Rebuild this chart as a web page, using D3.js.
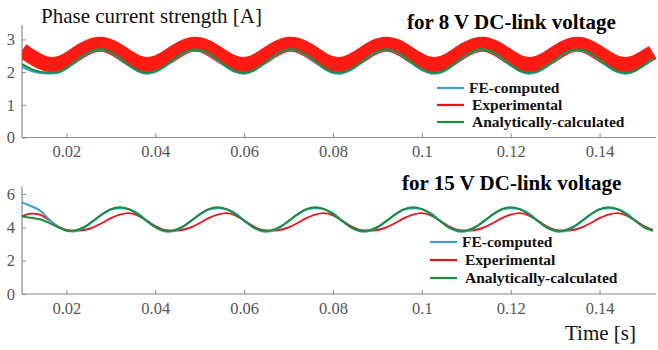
<!DOCTYPE html>
<html><head><meta charset="utf-8">
<script src="https://cdn.jsdelivr.net/npm/d3@7"></script>
<style>
html,body{margin:0;padding:0;background:#fff;}
svg{display:block;}
svg text{font-family:"Liberation Serif","DejaVu Serif",serif !important;}
</style></head>
<body>
<svg id="chart" width="658" height="350"></svg>
<script>
// ---- data ----
const time = [0.010,0.012,0.014,0.016,0.018,0.020,0.022,0.024,0.026,0.028,0.030,0.032,0.034,0.036,0.038,0.040,0.042,0.044,0.046,0.048,0.050,0.052,0.054,0.056,0.058,0.060,0.062,0.064,0.066,0.068,0.070,0.072,0.074,0.076,0.078,0.080,0.082,0.084,0.086,0.088,0.090,0.092,0.094,0.096,0.098,0.100,0.102,0.104,0.106,0.108,0.110,0.112,0.114,0.116,0.118,0.120,0.122,0.124,0.126,0.128,0.130,0.132,0.134,0.136,0.138,0.140,0.142,0.144,0.146,0.148,0.150,0.152];

const seriesNames = ["FE-computed","Experimental","Analytically-calculated"];
const xTickValues = [0.02,0.04,0.06,0.08,0.1,0.12,0.14];
const xTickLabels = ["0.02","0.04","0.06","0.08","0.1","0.12","0.14"];
const yTicksTop = [0,1,2,3];
const yTicksBottom = [0,2,4,6];

// 8 V panel
const fe8 = [2.16,2.04,1.97,1.96,1.97,2.10,2.31,2.51,2.65,2.69,2.60,2.41,2.20,2.03,1.95,2.00,2.15,2.36,2.56,2.67,2.67,2.56,2.36,2.15,2.00,1.95,2.03,2.20,2.41,2.60,2.69,2.65,2.51,2.31,2.10,1.97,1.96,2.06,2.25,2.46,2.63,2.69,2.63,2.46,2.25,2.06,1.96,1.97,2.10,2.31,2.51,2.65,2.69,2.60,2.41,2.20,2.03,1.95,2.00,2.15,2.36,2.56,2.67,2.67,2.56,2.36,2.15,2.00,1.95,2.03,2.20,2.41];
const exp8 = [2.66,2.48,2.33,2.24,2.25,2.36,2.53,2.70,2.82,2.85,2.77,2.62,2.44,2.29,2.23,2.27,2.40,2.57,2.74,2.84,2.84,2.74,2.57,2.40,2.27,2.23,2.29,2.44,2.62,2.77,2.85,2.82,2.70,2.53,2.36,2.25,2.24,2.33,2.48,2.66,2.80,2.85,2.80,2.66,2.48,2.33,2.24,2.25,2.36,2.53,2.70,2.82,2.85,2.77,2.62,2.44,2.29,2.23,2.27,2.40,2.57,2.74,2.84,2.84,2.74,2.57,2.40,2.27,2.23,2.29,2.44,2.60];
const ana8 = [2.24,2.10,2.01,1.99,2.00,2.13,2.33,2.53,2.67,2.70,2.61,2.43,2.22,2.05,1.98,2.03,2.18,2.38,2.57,2.68,2.68,2.57,2.38,2.18,2.03,1.98,2.05,2.22,2.43,2.61,2.70,2.67,2.53,2.33,2.13,2.00,1.99,2.09,2.27,2.48,2.64,2.70,2.64,2.48,2.27,2.09,1.99,2.00,2.13,2.33,2.53,2.67,2.70,2.61,2.43,2.22,2.05,1.98,2.03,2.18,2.38,2.57,2.68,2.68,2.57,2.38,2.18,2.03,1.98,2.05,2.22,2.43];

// 15 V panel
const fe15 = [5.50,5.28,5.02,4.50,4.05,3.79,3.76,3.98,4.36,4.76,5.07,
              5.15,5.10,4.85,4.42,4.00,3.77,3.76,3.98,4.36,4.76,5.07,
              5.15,5.10,4.85,4.42,4.00,3.77,3.76,3.98,4.36,4.76,5.07,
              5.15,5.10,4.85,4.42,4.00,3.77,3.76,3.98,4.36,4.76,5.07,
              5.15,5.10,4.85,4.42,4.00,3.77,3.76,3.98,4.36,4.76,5.07,
              5.15,5.10,4.85,4.42,4.00,3.77,3.76,3.98,4.36,4.76,5.07,
              5.15,5.10,4.85,4.42,4.00,3.80];
const exp15 = [4.66,4.82,4.76,4.45,4.08,3.85,3.80,3.84,4.00,4.26,4.55,
               4.76,4.85,4.72,4.42,4.07,3.85,3.80,3.84,4.00,4.26,4.55,
               4.76,4.85,4.72,4.42,4.07,3.85,3.80,3.84,4.00,4.26,4.55,
               4.76,4.85,4.72,4.42,4.07,3.85,3.80,3.84,4.00,4.26,4.55,
               4.76,4.85,4.72,4.42,4.07,3.85,3.80,3.84,4.00,4.26,4.55,
               4.76,4.85,4.72,4.42,4.07,3.85,3.80,3.84,4.00,4.26,4.55,
               4.76,4.85,4.72,4.42,4.07,3.85];
const ana15 = [4.65,4.58,4.48,4.28,4.02,3.81,3.81,4.02,4.39,4.78,5.09,
               5.20,5.09,4.78,4.39,4.02,3.81,3.81,4.02,4.39,4.78,5.09,
               5.20,5.09,4.78,4.39,4.02,3.81,3.81,4.02,4.39,4.78,5.09,
               5.20,5.09,4.78,4.39,4.02,3.81,3.81,4.02,4.39,4.78,5.09,
               5.20,5.09,4.78,4.39,4.02,3.81,3.81,4.02,4.39,4.78,5.09,
               5.20,5.09,4.78,4.39,4.02,3.81,3.81,4.02,4.39,4.78,5.09,
               5.20,5.09,4.78,4.39,4.02,3.81];

// ---- drawing ----
const FONT = '"Liberation Serif","DejaVu Serif",serif';
const svg = d3.select("#chart");
const colors = {fe:"#3f9fd3", exp:"#e8141b", ana:"#1e8c3a"};
const axisColor = "#8a8a8a";
const labelColor = "#555";

const x = d3.scaleLinear().domain([0.01, 0.1527]).range([22, 656]);

function panel(cfg){
  const y = d3.scaleLinear().domain(cfg.yDomain).range(cfg.yRange);
  const g = svg.append("g");
  const clipId = "clip" + cfg.id;
  svg.append("clipPath").attr("id", clipId).append("rect")
    .attr("x", 22).attr("y", cfg.yRange[1] - 10).attr("width", 634).attr("height", cfg.yRange[0] - cfg.yRange[1] + 10);

  const xa = g.append("g").attr("transform", `translate(0,${cfg.yRange[0]})`)
    .call(d3.axisBottom(x).tickValues(xTickValues).tickFormat((d,i)=>xTickLabels[i]).tickSize(-4).tickPadding(8));
  const ya = g.append("g").attr("transform", `translate(22,0)`)
    .call(d3.axisLeft(y).tickValues(cfg.yTicks).tickFormat(d3.format("d")).tickSize(-4).tickPadding(7));
  [xa, ya].forEach(a => {
    a.attr("font-family", FONT).attr("font-size", 16.5);
    a.select(".domain").attr("stroke", axisColor).attr("stroke-width", 1.2);
    a.selectAll(".tick line").attr("stroke", axisColor);
    a.selectAll(".tick text").attr("fill", labelColor);
  });
  ya.select(".domain").attr("d", `M0,${cfg.yRange[0]}V${cfg.yRange[1]}`);
  xa.select(".domain").attr("d", `M22,0H656`);

  const line = d3.line().x((d,i)=>x(time[i])).y(d=>y(d)).curve(d3.curveCatmullRom.alpha(0.5));
  const lg = g.append("g").attr("clip-path", `url(#${clipId})`);
  lg.append("path").datum(cfg.exp).attr("d", line).attr("fill","none")
    .attr("stroke", cfg.expColor).attr("stroke-width", cfg.expWidth).attr("stroke-linejoin","round");
  lg.append("path").datum(cfg.fe).attr("d", line).attr("fill","none")
    .attr("stroke", colors.fe).attr("stroke-width", 2);
  lg.append("path").datum(cfg.ana).attr("d", line).attr("fill","none")
    .attr("stroke", colors.ana).attr("stroke-width", 2);

  g.append("text").attr("x", cfg.titleX).attr("y", cfg.titleY)
    .attr("font-family", FONT).attr("font-size", 21).attr("font-weight", "bold").attr("fill", "#000")
    .text(cfg.title);

  const leg = g.append("g");
  const legColors = [colors.fe, colors.exp, colors.ana];
  seriesNames.forEach((n, i) => {
    const yy = cfg.legY[i];
    leg.append("line").attr("x1", cfg.legX).attr("x2", cfg.legX + 27).attr("y1", yy).attr("y2", yy)
      .attr("stroke", legColors[i]).attr("stroke-width", 2.2);
    leg.append("text").attr("x", cfg.legX + 32 + (i > 0 ? 3 : 0)).attr("y", yy + 5)
      .attr("font-family", FONT).attr("font-size", 15.5).attr("font-weight", "bold").attr("fill", "#111").text(n);
  });
}

panel({id:1, yDomain:[0,3.44], yRange:[137.5,25], yTicks:yTicksTop,
  fe:fe8, exp:exp8, ana:ana8, expColor:"#ff1a14", expWidth:15,
  title:"for 8 V DC-link voltage", titleX:407, titleY:29,
  legX:437, legY:[88,105,122]});

panel({id:2, yDomain:[0,6.45], yRange:[294,186.5], yTicks:yTicksBottom,
  fe:fe15, exp:exp15, ana:ana15, expColor:colors.exp, expWidth:1.8,
  title:"for 15 V DC-link voltage", titleX:402, titleY:190,
  legX:430, legY:[242,260,278]});

svg.append("text").attr("x", 41).attr("y", 23).attr("font-family", FONT).attr("font-size", 21).attr("fill", "#111")
  .text("Phase current strength [A]");
svg.append("text").attr("x", 565).attr("y", 340).attr("font-family", FONT).attr("font-size", 21).attr("fill", "#111")
  .text("Time [s]");
</script>
</body></html>
